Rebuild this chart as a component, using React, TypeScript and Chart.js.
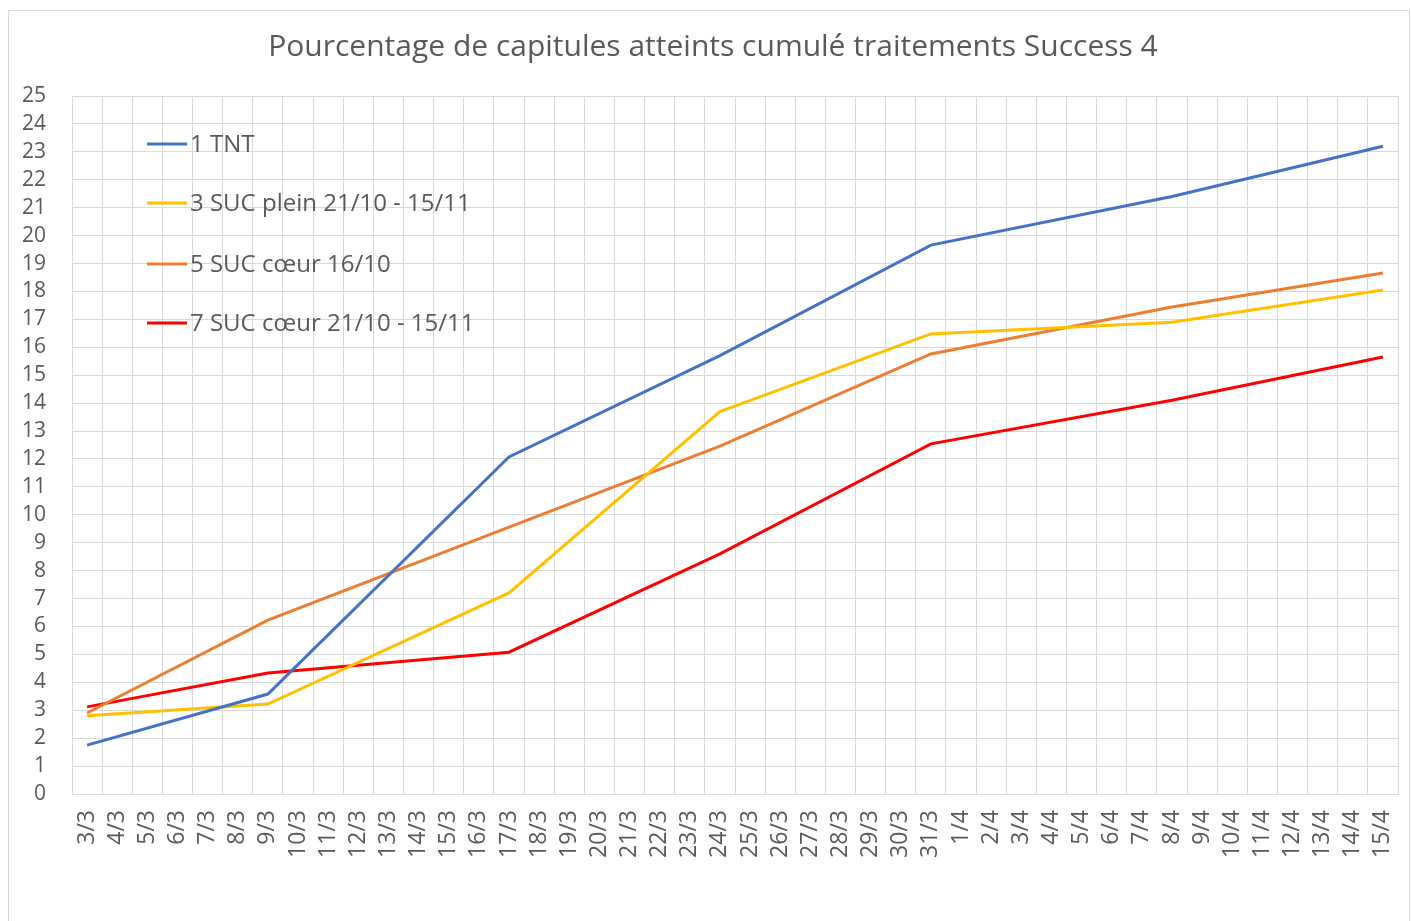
import React, { useEffect, useRef } from "react";
import { Chart, registerables } from "chart.js";

Chart.register(...registerables);

const TITLE = "Pourcentage de capitules atteints cumulé traitements Success 4";

const CATEGORIES = [
  "3/3", "4/3", "5/3", "6/3", "7/3", "8/3", "9/3", "10/3", "11/3", "12/3",
  "13/3", "14/3", "15/3", "16/3", "17/3", "18/3", "19/3", "20/3", "21/3", "22/3",
  "23/3", "24/3", "25/3", "26/3", "27/3", "28/3", "29/3", "30/3", "31/3",
  "1/4", "2/4", "3/4", "4/4", "5/4", "6/4", "7/4", "8/4", "9/4", "10/4",
  "11/4", "12/4", "13/4", "14/4", "15/4",
];

const MEASURE_DATES = ["3/3", "9/3", "17/3", "24/3", "31/3", "8/4", "15/4"];

const SERIES_NAMES = [
  "1 TNT",
  "3 SUC plein 21/10 - 15/11",
  "5 SUC cœur 16/10",
  "7 SUC cœur 21/10 - 15/11",
];

const TNT = [1.75, 3.58, 12.07, 15.7, 19.66, 21.4, 23.2];
const SUC_PLEIN = [2.8, 3.22, 7.2, 13.7, 16.48, 16.9, 18.05];
const SUC_COEUR_16 = [2.9, 6.23, 9.56, 12.46, 15.76, 17.44, 18.66];
const SUC_COEUR_21 = [3.12, 4.33, 5.08, 8.6, 12.54, 14.1, 15.65];

const SERIES_VALUES = [TNT, SUC_PLEIN, SUC_COEUR_16, SUC_COEUR_21];
const COLORS = ["#4472C4", "#FFC000", "#ED7D31", "#FF0000"];

const FONT = "'Open Sans'";
const TEXT_COLOR = "#595959";

const overlayPlugin = {
  id: "overlay",
  afterDraw(chart: any) {
    const ctx = chart.ctx;
    const area = chart.chartArea;
    ctx.save();
    ctx.fillStyle = TEXT_COLOR;
    ctx.font = `30px ${FONT}`;
    ctx.textAlign = "center";
    ctx.textBaseline = "middle";
    ctx.fillText(TITLE, 713, 47);

    const rows = [144, 203, 264, 323];
    ctx.font = `24px ${FONT}`;
    ctx.textAlign = "left";
    chart.data.datasets.forEach((ds: any, i: number) => {
      const y = rows[i];
      ctx.strokeStyle = ds.borderColor;
      ctx.lineWidth = 3;
      ctx.beginPath();
      ctx.moveTo(area.left + 75, y);
      ctx.lineTo(area.left + 115, y);
      ctx.stroke();
      ctx.fillText(ds.label, area.left + 118, y + 1);
    });
    ctx.restore();
  },
};

export default function App() {
  const ref = useRef<HTMLCanvasElement>(null);

  useEffect(() => {
    if (!ref.current) return;
    const datasets = SERIES_NAMES.map((name, i) => ({
      label: name,
      data: MEASURE_DATES.map((d, j) => ({ x: d, y: SERIES_VALUES[i][j] })),
      borderColor: COLORS[i],
      backgroundColor: COLORS[i],
      borderWidth: 3,
      pointRadius: 0,
      tension: 0,
      spanGaps: true,
    }));
    const chart = new Chart(ref.current, {
      type: "line",
      data: { labels: CATEGORIES, datasets },
      options: {
        animation: false,
        responsive: false,
        maintainAspectRatio: false,
        layout: { padding: { top: 96, left: 0, right: 13, bottom: 0 } },
        plugins: {
          legend: { display: false },
          title: { display: false },
          tooltip: { enabled: false },
        },
        scales: {
          x: {
            type: "category",
            offset: true,
            grid: { color: "#d9d9d9", lineWidth: 1, offset: true, drawTicks: false },
            border: { color: "#d9d9d9", width: 1 },
            ticks: {
              autoSkip: false,
              maxRotation: 90,
              minRotation: 90,
              padding: 16,
              color: TEXT_COLOR,
              font: { family: FONT, size: 23 },
            },
            afterFit(scale: any) {
              scale.height = 127;
              scale.paddingLeft = 0;
              scale.paddingRight = 0;
            },
          },
          y: {
            min: 0,
            max: 25,
            grid: { color: "#d9d9d9", lineWidth: 1, drawTicks: false },
            border: { color: "#d9d9d9", width: 1 },
            ticks: {
              stepSize: 1,
              autoSkip: false,
              padding: 26,
              color: TEXT_COLOR,
              font: { family: FONT, size: 21 },
            },
            afterFit(scale: any) {
              scale.width = 72;
            },
          },
        },
      },
      plugins: [overlayPlugin],
    });
    return () => chart.destroy();
  }, []);

  return (
    <div style={{ position: "absolute", left: 0, top: 0, width: 1411, height: 921, background: "#fff" }}>
      <div
        style={{
          position: "absolute",
          left: 8,
          top: 10,
          width: 1402,
          height: 920,
          borderLeft: "1px solid #d9d9d9",
          borderTop: "1px solid #d9d9d9",
          borderRight: "1px solid #d9d9d9",
          boxSizing: "border-box",
        }}
      />
      <canvas ref={ref} width={1411} height={921} style={{ position: "absolute", left: 0, top: 0 }} />
    </div>
  );
}
